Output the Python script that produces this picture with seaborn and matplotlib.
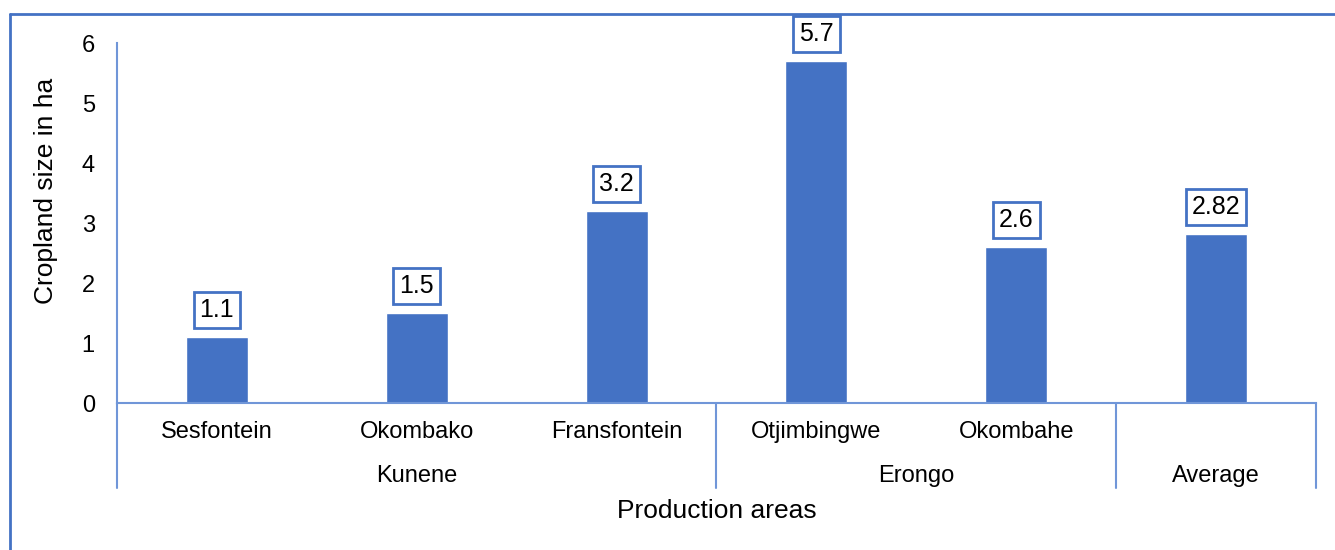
import matplotlib
matplotlib.use("Agg")
import matplotlib.pyplot as plt
import matplotlib.transforms as mtransforms
from matplotlib.lines import Line2D
import seaborn as sns
import pandas as pd

# Data
areas = ["Sesfontein", "Okombako", "Fransfontein", "Otjimbingwe", "Okombahe", "Average"]
regions = ["Kunene", "Kunene", "Kunene", "Erongo", "Erongo", "Average"]
cropland_ha = [1.1, 1.5, 3.2, 5.7, 2.6, 2.82]
value_labels = ["1.1", "1.5", "3.2", "5.7", "2.6", "2.82"]

df = pd.DataFrame({"area": areas, "region": regions, "size": cropland_ha})

sns.set_theme(style="white")
plt.rcParams["font.family"] = ["Liberation Sans", "DejaVu Sans"]
plt.rcParams["text.color"] = "black"
plt.rcParams["ytick.color"] = "black"
plt.rcParams["xtick.color"] = "black"

BAR = "#4472C4"
AXIS = "#7096D8"

fig = plt.figure(figsize=(13.35, 5.5), dpi=100)
ax = fig.add_axes([117 / 1335, 1 - 403 / 550, (1316 - 117) / 1335, 360 / 550])

sns.barplot(data=df, x="area", y="size", order=areas, color=BAR,
            saturation=1, width=0.31, ax=ax)

ax.set_ylim(0, 6)
ax.set_xlim(-0.5, len(areas) - 0.5)
ax.set_yticks(range(0, 7))
ax.tick_params(axis="y", length=0, pad=16, labelsize=17, labelcolor="black")
ax.set_xticks([])
ax.set_xlabel("")
ax.set_ylabel("")

for side in ["top", "right"]:
    ax.spines[side].set_visible(False)
for side in ["left", "bottom"]:
    ax.spines[side].set_color(AXIS)
    ax.spines[side].set_linewidth(1.5)

# Value labels in boxed callouts
for i, (v, lab) in enumerate(zip(cropland_ha, value_labels)):
    ax.annotate(lab, xy=(i, v), xytext=(0, 19.5), textcoords="offset points",
                ha="center", va="center", fontsize=18, color="black",
                bbox=dict(boxstyle="square,pad=0.24", fc="white",
                          ec=BAR, lw=2))

# Two-level category axis
trans = mtransforms.blended_transform_factory(ax.transData, ax.transAxes)
h = 360.0
for i, a in enumerate(areas):
    if regions[i] != "Average":
        ax.text(i, -29 / h, a, transform=trans, ha="center", va="center",
                fontsize=17, color="black")

# group spans
groups = []
start = 0
for i in range(1, len(regions) + 1):
    if i == len(regions) or regions[i] != regions[start]:
        groups.append((regions[start], start, i - 1))
        start = i

edges = set()
for name, s, e in groups:
    ax.text((s + e) / 2, -73 / h, name, transform=trans, ha="center",
            va="center", fontsize=17, color="black")
    edges.add(s - 0.5)
    edges.add(e + 0.5)
for x in sorted(edges):
    ax.add_line(Line2D([x, x], [0, -85 / h], transform=trans, color=AXIS,
                       lw=1.5, clip_on=False))

ax.text(0.5 * (len(areas) - 1), -108 / h, "Production areas", transform=trans,
        ha="center", va="center", fontsize=19, color="black")
fig.text(46 / 1335, 1 - 191 / 550, "Cropland size in ha", rotation=90,
         ha="center", va="center", fontsize=19, color="black")

# chart frame
fig.add_artist(Line2D([10 / 1335, 1], [1 - 14 / 550, 1 - 14 / 550],
                      transform=fig.transFigure, color=BAR, lw=2))
fig.add_artist(Line2D([10 / 1335, 10 / 1335], [0, 1 - 14 / 550],
                      transform=fig.transFigure, color=BAR, lw=2))

fig.savefig("out.png", dpi=100)
